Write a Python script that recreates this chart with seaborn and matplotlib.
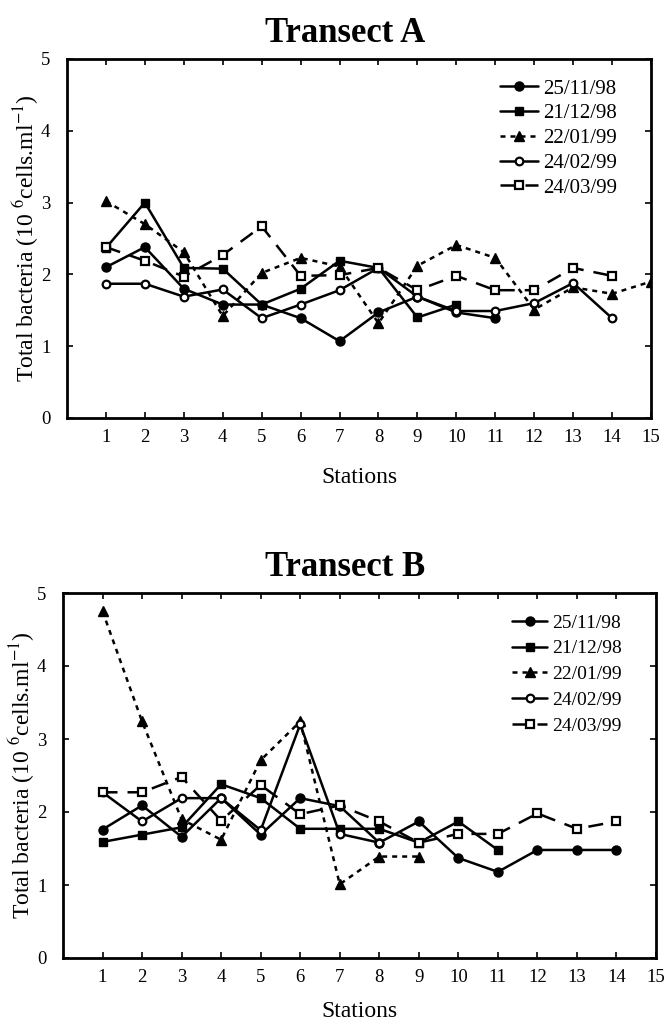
import matplotlib
matplotlib.use("Agg")
import matplotlib.pyplot as plt
import seaborn as sns
import numpy as np

# ---- data ----
stations = list(range(1, 16))
labels = ["25/11/98", "21/12/98", "22/01/99", "24/02/99", "24/03/99"]

# Transect A
a_2511 = [2.1, 2.38, 1.8, 1.58, 1.58, 1.39, 1.07, 1.47, 1.69, 1.47, 1.39]
a_2112 = [2.37, 3.0, 2.09, 2.08, 1.58, 1.8, 2.19, 2.09, 1.4, 1.58]
a_2201 = [3.02, 2.7, 2.31, 1.42, 2.02, 2.23, 2.11, 1.32, 2.12, 2.41, 2.23, 1.51, 1.82, 1.73, 1.9]
a_2402 = [1.87, 1.87, 1.69, 1.79, 1.39, 1.58, 1.78, 2.09, 1.69, 1.49, 1.49, 1.6, 1.88, 1.39]
a_2403 = [2.38, 2.19, 1.97, 2.27, 2.67, 1.98, 1.99, 2.09, 1.78, 1.98, 1.78, 1.78, 2.09, 1.98]

# Transect B
b_2511 = [1.76, 2.09, 1.66, 2.19, 1.69, 2.19, 2.08, 1.58, 1.87, 1.37, 1.18, 1.48, 1.48, 1.48]
b_2112 = [1.59, 1.69, 1.79, 2.38, 2.19, 1.77, 1.77, 1.77, 1.58, 1.87, 1.48]
b_2201 = [4.75, 3.24, 1.9, 1.62, 2.71, 3.24, 1.01, 1.39, 1.39]
b_2402 = [2.27, 1.87, 2.19, 2.19, 1.75, 3.2, 1.7, 1.58]
b_2403 = [2.27, 2.27, 2.48, 1.88, 2.37, 1.97, 2.09, 1.87, 1.58, 1.7, 1.7, 1.98, 1.77, 1.87]

yticks = [0, 1, 2, 3, 4, 5]
titles = ["Transect A", "Transect B"]
xlabel = "Stations"
ylabel = r"Total bacteria (10 $^{6}$cells.ml$^{-1}$)"

# ---- styles ----
styles = [
    dict(marker="o", markersize=6.5, markerfacecolor="black", markeredgewidth=1.0, linestyle="-"),
    dict(marker="s", markersize=6.3, markerfacecolor="black", markeredgewidth=1.0, linestyle="-"),
    dict(marker="^", markersize=7, markerfacecolor="black", markeredgewidth=1.0, linestyle=(0, (2, 2))),
    dict(marker="o", markersize=5.5, markerfacecolor="white", markeredgewidth=1.6, linestyle="-"),
    dict(marker="s", markersize=5.3, markerfacecolor="white", markeredgewidth=1.6, linestyle=(0, (6, 4))),
]

sns.set_theme(style="ticks")
plt.rcParams["font.family"] = ["Liberation Serif", "DejaVu Serif"]
plt.rcParams["mathtext.fontset"] = "stix"
plt.rcParams["text.color"] = "black"
plt.rcParams["axes.labelcolor"] = "black"
plt.rcParams["axes.titlecolor"] = "black"

W, H = 666, 1025
fig = plt.figure(figsize=(W / 100, H / 100), dpi=100)

panels = [
    dict(rect=[67, 59, 651, 418], data=[a_2511, a_2112, a_2201, a_2402, a_2403],
         xlim=(0, 15), leg=(500, 79), legfs=15, legls=0.25, tx=345, xlp=15),
    dict(rect=[63, 593, 656, 958], data=[b_2511, b_2112, b_2201, b_2402, b_2403],
         xlim=(0, 15), leg=(512, 614), legfs=14, legls=0.42, tx=345, xlp=11),
]

for i, p in enumerate(panels):
    l, t, r, b = p["rect"]
    ax = fig.add_axes([l / W, 1 - b / H, (r - l) / W, (b - t) / H])
    for lab, vals, st in zip(labels, p["data"], styles):
        sns.lineplot(x=stations[:len(vals)], y=vals, ax=ax, color="black",
                     linewidth=1.8, markeredgecolor="black",
                     label=lab, **st)
    ax.set_xlim(*p["xlim"])
    ax.set_ylim(0, 5)
    ax.set_xticks(stations)
    ax.set_yticks(yticks)
    ax.tick_params(direction="in", top=True, right=True, length=4, width=1.2,
                   labelsize=13.5, colors="black")
    ax.tick_params(axis="x", pad=8)
    ax.tick_params(axis="y", pad=12)
    for s in ax.spines.values():
        s.set_linewidth(2)
        s.set_color("black")
    ax.set_title(titles[i], fontsize=25, fontweight="bold", pad=12,
                 x=(p["tx"] - l) / (r - l))
    ax.set_xlabel(xlabel, fontsize=17, labelpad=p["xlp"])
    ax.set_ylabel(ylabel, fontsize=17, labelpad=0)
    lx, ly = p["leg"]
    ax.legend(loc="upper left",
              bbox_to_anchor=((lx - l) / (r - l), (b - ly) / (b - t)),
              frameon=False, fontsize=p["legfs"], handlelength=1.8, handletextpad=0.25,
              labelspacing=p["legls"], borderpad=0, borderaxespad=0)

fig.savefig("out.png", dpi=100)
